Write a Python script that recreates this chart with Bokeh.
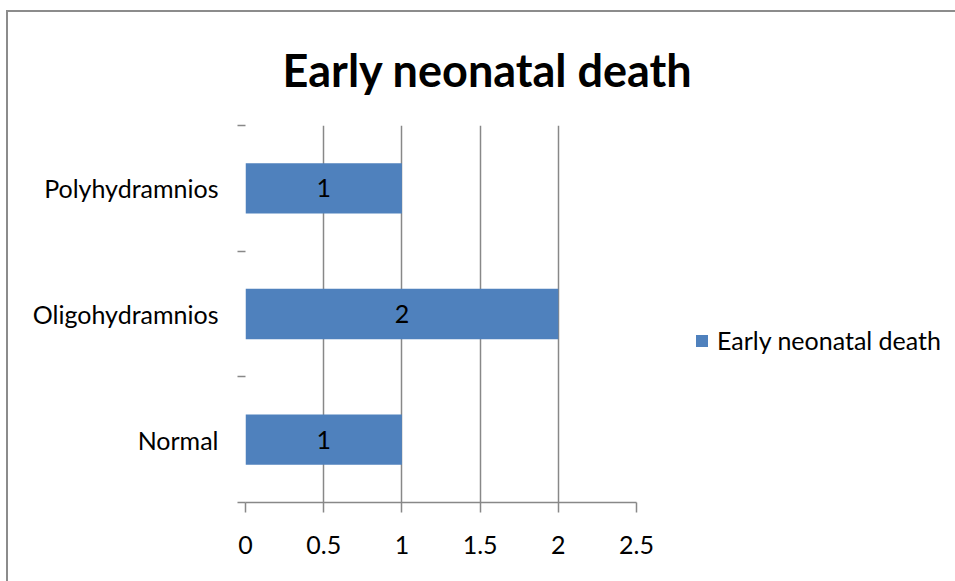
from bokeh.plotting import figure
from bokeh.models import (FixedTicker, Legend, LegendItem, Title,
                          ColumnDataSource, Range1d)
from bokeh.core.properties import value
from bokeh.embed import file_html
from bokeh.resources import INLINE

# ---- data ----
categories = ["Normal", "Oligohydramnios", "Polyhydramnios"]
deaths = [1, 2, 1]
series_name = "Early neonatal death"
title_text = "Early neonatal death"
x_ticks = [0, 0.5, 1, 1.5, 2, 2.5]
x_tick_labels = ["0", "0.5", "1", "1.5", "2", "2.5"]

FONT = "Lato"
LABEL_SIZE = "25px"
GRAY = "#888888"
BLUE = "#4f81bd"

ypos = [i + 0.5 for i in range(len(categories))]
src = ColumnDataSource(dict(y=ypos, v=deaths, mid=[d / 2 for d in deaths],
                            txt=[str(d) for d in deaths]))

p = figure(frame_width=391, frame_height=377, output_backend="svg",
           toolbar_location=None,
           x_range=Range1d(0, 2.5), y_range=Range1d(0, len(categories)),
           min_border_left=237, min_border_right=317, min_border_top=111,
           min_border_bottom=79)
p.styles = {"margin-left": "6px", "margin-top": "10px",
            "border-left": "2px solid #8c8c8c", "border-top": "2px solid #8c8c8c"}
p.outline_line_color = None
p.background_fill_color = "white"
p.border_fill_color = "white"

r = p.hbar(y="y", right="v", left=0, height=0.4, source=src,
           fill_color=BLUE, line_color=None)
p.text(x="mid", y="y", text="txt", source=src, text_align="center",
       text_baseline="middle", text_font=value(FONT), text_font_size=LABEL_SIZE,
       text_color="black")

# x axis
xa = p.xaxis[0]
xa.ticker = FixedTicker(ticks=x_ticks)
xa.major_label_overrides = {t: l for t, l in zip(x_ticks, x_tick_labels)}
xa.axis_line_color = GRAY
xa.axis_line_width = 1.5
xa.major_tick_line_color = GRAY
xa.major_tick_line_width = 1.5
xa.major_tick_in = 0
xa.major_tick_out = 10
xa.minor_tick_line_color = None
xa.major_label_text_font = FONT
xa.major_label_text_font_size = LABEL_SIZE
xa.major_label_text_color = "black"
xa.major_label_standoff = 23

# y axis
ya = p.yaxis[0]
ya.ticker = FixedTicker(ticks=ypos, minor_ticks=list(range(len(categories) + 1)))
ya.major_label_overrides = {y: c for y, c in zip(ypos, categories)}
ya.axis_line_color = None
ya.major_tick_line_color = None
ya.major_tick_in = 0
ya.major_tick_out = 0
ya.minor_tick_line_color = GRAY
ya.minor_tick_line_width = 1.5
ya.minor_tick_in = 0
ya.minor_tick_out = 8
ya.major_label_text_font = FONT
ya.major_label_text_font_size = LABEL_SIZE
ya.major_label_text_color = "black"
ya.major_label_standoff = 19

# grids
p.ygrid.grid_line_color = None
p.xgrid.ticker = FixedTicker(ticks=x_ticks[1:])
p.xgrid.grid_line_color = GRAY
p.xgrid.grid_line_width = 1.5

# title
t = Title(text=title_text, align="left", text_font=FONT, text_font_style="bold",
          text_font_size="45px", text_color="black", offset=37, standoff=57)
p.add_layout(t, "above")

# legend
legend = Legend(items=[LegendItem(label=series_name, renderers=[r])],
                location=(58, 147), glyph_width=15, glyph_height=15,
                padding=0, margin=0, border_line_color=None,
                background_fill_alpha=0, label_standoff=8,
                label_text_font=FONT, label_text_font_size=LABEL_SIZE,
                label_text_color="black")
p.add_layout(legend, "right")

open("out.html", "w").write(file_html(p, INLINE))
